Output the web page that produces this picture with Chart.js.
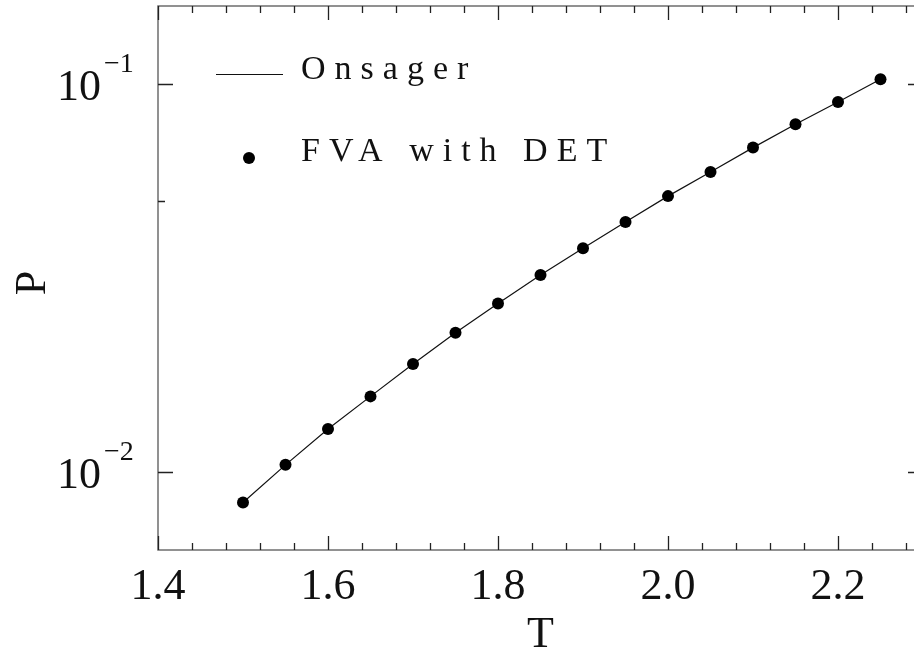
<!DOCTYPE html>
<html>
<head>
<meta charset="utf-8">
<script src="https://cdn.jsdelivr.net/npm/chart.js@4.4.1/dist/chart.umd.min.js"></script>
<style>
    html, body { margin: 0; padding: 0; background: #fff; }
    #wrap { width: 914px; height: 650px; overflow: hidden; }
    canvas { display: block; }
</style>
</head>
<body>
<div id="wrap"><canvas id="plot" width="940" height="650"></canvas></div>
<script>
// temperatures and P values; the Onsager curve runs through the same points
const temps = [1.50, 1.55, 1.60, 1.65, 1.70, 1.75, 1.80, 1.85, 1.90, 1.95, 2.00, 2.05, 2.10, 2.15, 2.20, 2.25];
const pValues = [0.00836, 0.01045, 0.01292, 0.01568, 0.01900, 0.02285, 0.02719, 0.03219,
    0.03774, 0.04404, 0.05137, 0.05925, 0.06848, 0.07863, 0.08978, 0.1027];
const seriesNames = ['Onsager', 'FVA with DET'];
const xTicks = [1.4, 1.6, 1.8, 2.0, 2.2];
const yTicks = [0.01, 0.1];
const yTickExps = ['\u22122', '\u22121'];

const SERIF = "'Liberation Serif', 'DejaVu Serif', serif";

const points = temps.map((t, i) => ({ x: t, y: pValues[i] }));

// frame, inward ticks on all four sides, 10^n labels, P label and the legend box
const plotFrame = {
    id: 'plotFrame',
    afterDraw(chart) {
        const { ctx, chartArea: a } = chart;
        const xs = chart.scales.x;
        const ys = chart.scales.y;
        ctx.save();

        ctx.strokeStyle = '#6e6e6e';
        ctx.lineWidth = 1.5;
        ctx.strokeRect(a.left, a.top, a.right - a.left, a.bottom - a.top);

        ctx.strokeStyle = '#222';
        ctx.lineWidth = 1.3;
        ctx.beginPath();
        for (let k = 0; k <= 22; k++) {
            const px = Math.round(xs.getPixelForValue(1.4 + 0.04 * k)) + 0.5;
            const len = k % 5 === 0 ? 14 : 7;
            ctx.moveTo(px, a.bottom);
            ctx.lineTo(px, a.bottom - len);
            ctx.moveTo(px, a.top);
            ctx.lineTo(px, a.top + len);
        }
        [[0.01, 15], [0.05, 7], [0.1, 15]].forEach(([v, len]) => {
            const py = Math.round(ys.getPixelForValue(v)) + 0.5;
            ctx.moveTo(a.left, py);
            ctx.lineTo(a.left + len, py);
            ctx.moveTo(a.right, py);
            ctx.lineTo(a.right - len, py);
        });
        ctx.stroke();

        // y labels as 10 with a raised exponent
        ctx.fillStyle = '#111';
        ctx.textBaseline = 'alphabetic';
        yTicks.forEach((v, i) => {
            const py = ys.getPixelForValue(v);
            ctx.font = `44px ${SERIF}`;
            ctx.textAlign = 'right';
            ctx.fillText('10', 101, py + 16);
            ctx.font = `28px ${SERIF}`;
            ctx.textAlign = 'left';
            ctx.fillText(yTickExps[i], 104, py - 12);
        });

        // y axis name, turned to read upwards
        ctx.save();
        ctx.translate(45, (a.top + a.bottom) / 2 + 5);
        ctx.rotate(-Math.PI / 2);
        ctx.font = `44px ${SERIF}`;
        ctx.textAlign = 'center';
        ctx.fillText(ys.options.title.text, 0, 0);
        ctx.restore();

        // legend
        const line = chart.data.datasets[0];
        const dots = chart.data.datasets[1];
        ctx.font = `34px ${SERIF}`;
        ctx.letterSpacing = '9px';
        ctx.textAlign = 'left';

        ctx.strokeStyle = line.borderColor;
        ctx.lineWidth = line.borderWidth;
        ctx.beginPath();
        ctx.moveTo(216, 74.5);
        ctx.lineTo(283, 74.5);
        ctx.stroke();
        ctx.fillText(line.label, 301, 79);

        ctx.fillStyle = dots.backgroundColor;
        ctx.beginPath();
        ctx.arc(249, 158, dots.pointRadius, 0, Math.PI * 2);
        ctx.fill();
        ctx.fillStyle = '#111';
        ctx.fillText(dots.label, 301, 160.5);

        ctx.restore();
    },
};

function drawPlot() {
    return new Chart(document.getElementById('plot'), {
        type: 'scatter',
        data: {
            datasets: [
                {
                    label: seriesNames[0],
                    data: points,
                    showLine: true,
                    borderColor: '#111',
                    borderWidth: 1.2,
                    pointRadius: 0,
                    order: 1,
                },
                {
                    label: seriesNames[1],
                    data: points,
                    showLine: false,
                    backgroundColor: '#000',
                    borderColor: '#000',
                    borderWidth: 0,
                    pointRadius: 6,
                    order: 0,
                },
            ],
        },
        options: {
            responsive: false,
            animation: false,
            layout: {
                padding: { top: 6, right: 17, left: 0, bottom: 0 },
            },
            plugins: {
                legend: { display: false },
                tooltip: { enabled: false },
            },
            scales: {
                x: {
                    type: 'linear',
                    min: 1.4,
                    max: 2.3,
                    grid: { display: false },
                    border: { display: false },
                    afterBuildTicks(axis) {
                        axis.ticks = xTicks.map(v => ({ value: v }));
                    },
                    afterFit(axis) {
                        axis.height = 100;
                    },
                    ticks: {
                        color: '#111',
                        padding: 3,
                        maxRotation: 0,
                        font: { family: SERIF, size: 44 },
                        callback: v => v.toFixed(1),
                    },
                    title: {
                        display: true,
                        text: 'T',
                        color: '#111',
                        font: { family: SERIF, size: 44, lineHeight: 0.65 },
                        padding: 0,
                    },
                },
                y: {
                    type: 'logarithmic',
                    min: Math.pow(10, -2.2),
                    max: Math.pow(10, -0.8),
                    grid: { display: false },
                    border: { display: false },
                    ticks: { display: false },
                    afterFit(axis) {
                        axis.width = 158;
                    },
                    // drawn by plotFrame so it can sit a little lower
                    title: {
                        display: false,
                        text: 'P',
                    },
                },
            },
        },
        plugins: [plotFrame],
    });
}

Promise.all([
    document.fonts.load("44px 'Liberation Serif'"),
    document.fonts.load("34px 'Liberation Serif'"),
]).catch(() => null).then(drawPlot);
</script>
</body>
</html>
